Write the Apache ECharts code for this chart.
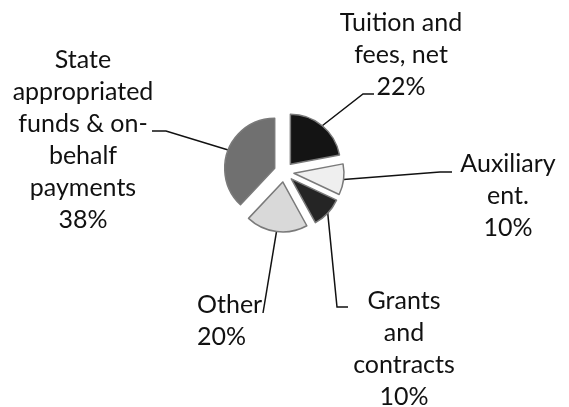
<!DOCTYPE html>
<html>
<head>
<meta charset="utf-8">
<script src="https://cdn.jsdelivr.net/npm/echarts@6/dist/echarts.min.js"></script>
<style>
  html, body { margin: 0; padding: 0; background: #fff; }
  #chart { width: 569px; height: 407px; }
</style>
</head>
<body>
<div id="chart"></div>
<script>
// revenue shares, clockwise from 12 o'clock
var categories = ['Tuition and\nfees, net', 'Auxiliary\nent.', 'Grants\nand\ncontracts', 'Other', 'State\nappropriated\nfunds & on-\nbehalf\npayments'];
var shares = [22, 10, 10, 20, 38];
var sliceColors = ['#141414', '#efefef', '#252525', '#d9d9d9', '#707070'];

// label box centre (or left edge for 'l'), and knee / end of its leader line
var labelSpots = [
    {x: 401, y: 55, box: 'c', knee: [363, 94], end: [374, 94]},
    {x: 508, y: 196, box: 'c', knee: [440, 172], end: [452, 172]},
    {x: 404, y: 349, box: 'c', knee: [337, 307], end: [348, 307]},
    {x: 197, y: 321, box: 'l', knee: [263, 313], end: [263, 313]},
    {x: 83, y: 140, box: 'c', knee: [166, 131], end: [152, 131]}
];

var explode = 10;

// labels and guide lines live in the exploded slice's frame, so undo that shift
function sliceShift(i) {
    var total = 0, before = 0;
    shares.forEach(function (v, k) {
        total += v;
        if (k < i) before += v;
    });
    var mid = (before + shares[i] / 2) / total * Math.PI * 2;
    return [Math.sin(mid) * explode, -Math.cos(mid) * explode];
}

var chart = echarts.init(document.getElementById('chart'));

var pieData = categories.map(function (name, i) {
    return {
        name: name,
        value: shares[i],
        selected: true,
        itemStyle: {color: sliceColors[i]}
    };
});

var txt = {fontFamily: 'Lato', fontSize: 25, lineHeight: 32, color: '#111'};

chart.setOption({
    animation: false,
    backgroundColor: '#fff',
    series: [
        {
            type: 'pie',
            center: [284, 172],
            radius: 50,
            startAngle: 90,
            selectedMode: 'multiple',
            selectedOffset: explode,
            avoidLabelOverlap: false,
            itemStyle: {
                borderColor: '#7a7a7a',
                borderWidth: 1.5
            },
            select: {
                itemStyle: {borderColor: '#7a7a7a', borderWidth: 1.5}
            },
            label: {
                show: true,
                position: 'outside',
                formatter: function (p) {
                    var tag = labelSpots[p.dataIndex].box;
                    var lines = (p.name + '\n' + p.value + '%').split('\n');
                    return lines.map(function (l) { return '{' + tag + '|' + l + '}'; }).join('\n');
                },
                fontFamily: txt.fontFamily,
                fontSize: txt.fontSize,
                lineHeight: txt.lineHeight,
                color: txt.color,
                rich: {
                    c: Object.assign({width: 160, align: 'center'}, txt),
                    l: Object.assign({width: 70, align: 'left'}, txt)
                }
            },
            labelLine: {
                show: true,
                length: 10,
                length2: 10,
                lineStyle: {color: '#111', width: 1.5}
            },
            labelLayout: function (params) {
                var i = params.dataIndex;
                var s = labelSpots[i];
                var sh = sliceShift(i);
                var r = params.labelRect;
                var left = s.box === 'l' ? s.x : s.x - r.width / 2;
                var top = s.y - r.height / 2;
                var pts = params.labelLinePoints;
                return {
                    dx: left - r.x - sh[0],
                    dy: top - r.y - sh[1],
                    labelLinePoints: [
                        pts[0],
                        [s.knee[0] - sh[0], s.knee[1] - sh[1]],
                        [s.end[0] - sh[0], s.end[1] - sh[1]]
                    ]
                };
            },
            data: pieData
        }
    ]
});
</script>
</body>
</html>
